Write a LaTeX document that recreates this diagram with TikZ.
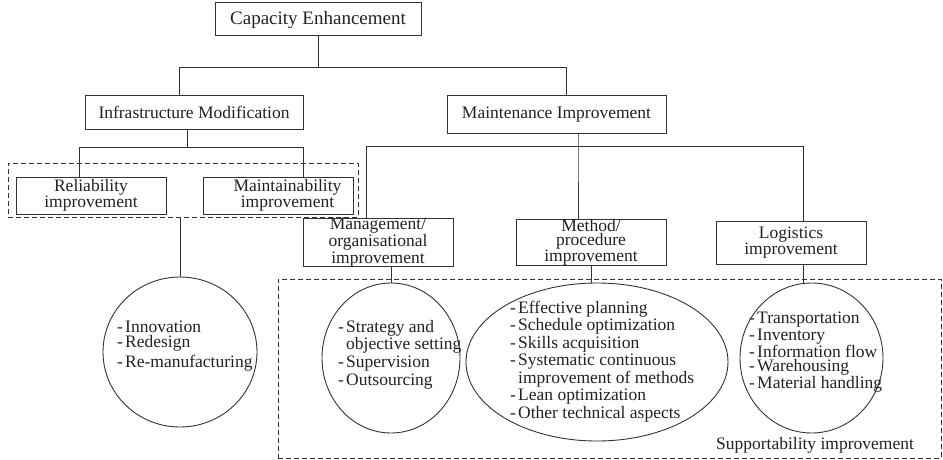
\documentclass[tikz,border=0pt]{standalone}
\usepackage{fontspec}
\setmainfont{Liberation Serif}
\usetikzlibrary{shapes.geometric}
\definecolor{ink}{HTML}{333333}
\definecolor{txt}{HTML}{222222}
\newcommand{\dashitem}[1]{\makebox[8pt][l]{-}#1}
\newcommand{\contitem}[1]{\hspace*{8pt}#1}
\begin{document}
\begin{tikzpicture}[x=1pt,y=-1pt,
  box/.style={draw=ink, line width=1pt, rectangle, inner sep=0pt, align=center, text=txt,
    font=\fontsize{17.5}{15}\selectfont},
  grp/.style={draw=ink, line width=0.9pt, dash pattern=on 5pt off 3pt, rectangle, inner sep=0pt},
  oval/.style={draw=ink, line width=0.9pt, ellipse, inner sep=0pt},
  conn/.style={draw=ink, line width=1pt},
  listtxt/.style={inner sep=0pt, align=left, text=txt, anchor=west}]
\useasboundingbox (0,0) rectangle (943,460);

% top levels
\node[box, minimum width=206pt, minimum height=33pt, font=\fontsize{19}{21}\selectfont] (cap) at (318,19.5) {Capacity Enhancement};
\node[box, minimum width=218pt, minimum height=33pt] (infra) at (194,112.5) {Infrastructure Modification};
\node[box, minimum width=219pt, minimum height=37pt] (mi) at (556.5,114.5) {Maintenance Improvement};

% infrastructure children
\node[grp, minimum width=350pt, minimum height=54pt] (relgrp) at (183,190) {};
\node[box, minimum width=150pt, minimum height=37pt] (rel) at (91,195.5) {Reliability\\improvement};
\node[box, minimum width=150pt, minimum height=37pt] (mnt) at (278,195.5) {\hspace*{19pt}Maintainability\\\hspace*{19pt}improvement};

% maintenance children
\node[box, minimum width=150pt, minimum height=43pt, font=\fontsize{17.5}{12}\selectfont] (mgmt) at (378,242.5) {Management/\\organisational\\improvement};
\node[box, minimum width=150pt, minimum height=43pt, font=\fontsize{17.5}{12}\selectfont] (mtd) at (591,242.5) {Method/\\procedure\\improvement};
\node[box, minimum width=150pt, minimum height=43pt, font=\fontsize{17.5}{13}\selectfont] (lgs) at (791,242.5) {Logistics\\improvement};

% supportability group
\node[grp, minimum width=663pt, minimum height=179pt] (suppgrp) at (609.5,368.5) {};
\node[text=txt, inner sep=0pt, font=\fontsize{17.5}{15}\selectfont] (supp) at (815,445) {Supportability improvement};

% ovals
\node[oval, minimum width=154pt, minimum height=150pt] (innov) at (180,352) {};
\node[oval, minimum width=138pt, minimum height=150pt] (mgc) at (391,358) {};
\node[oval, minimum width=262pt, minimum height=158pt] (mtc) at (597,362) {};
\node[oval, minimum width=143pt, minimum height=150pt] (lgc) at (811.5,358) {};

% lists
\node[listtxt, font=\fontsize{17.5}{15}\selectfont] (innovtxt) at (117,346.5)
  {\dashitem{Innovation}\\\dashitem{Redesign}\\[3pt]\dashitem{Re-manufacturing}};
\node[listtxt, font=\fontsize{17.5}{17.6}\selectfont] (mgctxt) at (338,354.5)
  {\dashitem{Strategy and}\\\contitem{objective setting}\\\dashitem{Supervision}\\\dashitem{Outsourcing}};
\node[listtxt, font=\fontsize{17.5}{17.5}\selectfont] (mtctxt) at (510,361.5)
  {\dashitem{Effective planning}\\\dashitem{Schedule optimization}\\\dashitem{Skills acquisition}\\\dashitem{Systematic continuous}\\\contitem{improvement of methods}\\\dashitem{Lean optimization}\\\dashitem{Other technical aspects}};
\node[listtxt, font=\fontsize{17.5}{14.75}\selectfont] (lgctxt) at (749,352.5)
  {\dashitem{Transportation}\\\dashitem{Inventory}\\\dashitem{Information flow}\\\dashitem{Warehousing}\\\dashitem{Material handling}};

% connectors
\draw[conn] (cap.south) -- ++(0,31) coordinate (j1);
\draw[conn] ([xshift=-15pt]infra.north) |- (j1) -| ([xshift=9.5pt]mi.north);
\draw[conn] ([xshift=-7pt]infra.south) -- ++(0,18) coordinate (j2);
\draw[conn] ([xshift=-12pt]rel.north) |- (j2) -| ([xshift=25pt]mnt.north);
\draw[conn] (relgrp.south -| innov.north) -- (innov.north);
\draw[conn] ([xshift=21.5pt]mi.south) -- ++(0,13) coordinate (j3) -- ([xshift=-13pt]mtd.north);
\draw[conn] ([xshift=-12pt]mgmt.north) |- (j3) -| ([xshift=12pt]lgs.north);
\draw[conn] (mgmt.south -| mgc.north) -- (mgc.north);
\draw[conn] (mtd.south) -- (mtd.south |- mtc.north);
\draw[conn] ([xshift=12pt]lgs.south) -- ([xshift=12pt]lgs.south |- lgc.north);
\end{tikzpicture}
\end{document}
